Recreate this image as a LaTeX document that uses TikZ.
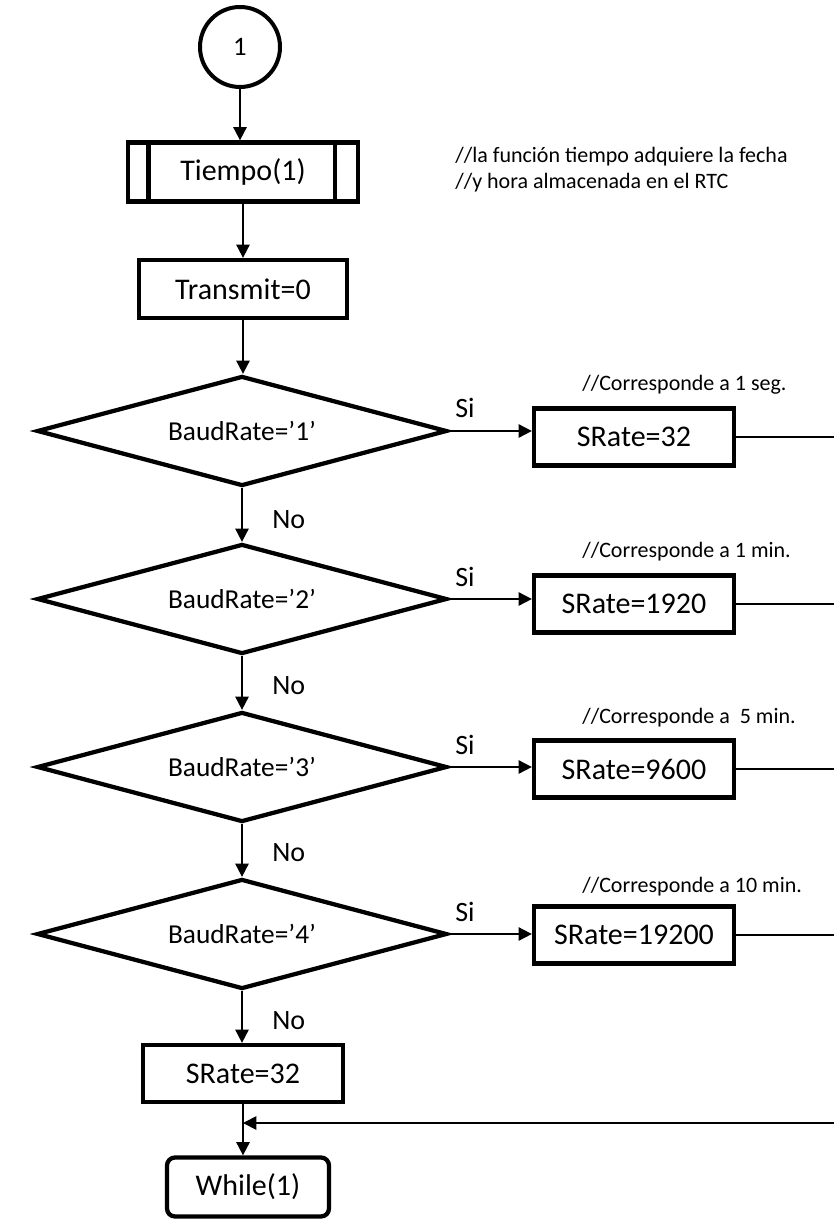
\documentclass[tikz,border=0pt]{standalone}
\usepackage{fontspec}
\setmainfont{Carlito}
\usetikzlibrary{shapes.geometric,arrows.meta}
\begin{document}
\begin{tikzpicture}[x=0.75pt,y=-0.75pt,
  box/.style={draw,line width=3.2pt,minimum width=150pt,minimum height=42.75pt,
    inner sep=0pt,font=\fontsize{22.5}{27}\selectfont},
  decision/.style={draw,diamond,line width=3.2pt,aspect=3.7,minimum width=307.5pt,
    minimum height=82.5pt,inner sep=0pt,font=\fontsize{20.5}{24}\selectfont},
  flow/.style={line width=1.4pt,-{Triangle[length=10pt,width=10pt]}},
  link/.style={line width=1.4pt},
  answer/.style={inner sep=0pt,font=\fontsize{21}{25}\selectfont},
  remark/.style={inner sep=0pt,anchor=west,font=\fontsize{16.5}{20}\selectfont},
]
\useasboundingbox (0,0) rectangle (834,1219);

% connector and initialisation
\node[draw,circle,line width=3pt,minimum size=60pt,inner sep=0pt,
  font=\fontsize{20}{24}\selectfont] (start) at (240,47) {1};
\node[box,minimum width=172.5pt,minimum height=44.25pt] (tiempo) at (243,172) {Tiempo(1)};
\draw[line width=3.2pt] ([xshift=17pt]tiempo.north west) -- ([xshift=17pt]tiempo.south west);
\draw[line width=3.2pt] ([xshift=-19pt]tiempo.north east) -- ([xshift=-19pt]tiempo.south east);
\node[remark] (c0a) at (455,157) {//la función tiempo adquiere la fecha};
\node[remark] (c0b) at (455,183) {//y hora almacenada en el RTC};
\node[box,minimum width=156pt,minimum height=43.5pt] (transmit) at (243,289) {Transmit=0};

% baud rate decisions
\node[decision] (d1) at (242,431) {BaudRate=’1’};
\node[decision] (d2) at (242,599) {BaudRate=’2’};
\node[decision] (d3) at (242,767) {BaudRate=’3’};
\node[decision] (d4) at (242,934) {BaudRate=’4’};

% sampling rate assignments
\node[box] (s1) at (634,437) {SRate=32};
\node[box] (s2) at (634,604) {SRate=1920};
\node[box] (s3) at (634,769) {SRate=9600};
\node[box] (s4) at (634,935) {SRate=19200};
\node[box] (s0) at (243,1073.5) {SRate=32};
\node[box,rounded corners=6pt,minimum width=121.5pt,minimum height=44.25pt] (loop) at (248,1187) {While(1)};

\node[remark] (c1) at (582,385) {//Corresponde a 1 seg.};
\node[remark] (c2) at (582,552) {//Corresponde a 1 min.};
\node[remark] (c3) at (582,718) {//Corresponde a\ \ 5 min.};
\node[remark] (c4) at (582,887) {//Corresponde a 10 min.};

\node[answer] (si1) at (465,408) {Si};
\node[answer] (si2) at (465,577) {Si};
\node[answer] (si3) at (465,745) {Si};
\node[answer] (si4) at (465,912) {Si};
\node[answer,anchor=west] (no1) at (272,520) {No};
\node[answer,anchor=west] (no2) at (272,686) {No};
\node[answer,anchor=west] (no3) at (272,853) {No};
\node[answer,anchor=west] (no4) at (272,1021) {No};

% main flow
\draw[flow] (start) -- (start |- tiempo.north);
\draw[flow] (tiempo.south -| transmit) -- (transmit.north);
\draw[flow] (transmit.south) -- (transmit.south |- d1.north);
\draw[flow] (d1.south) -- (d2.north);
\draw[flow] (d2.south) -- (d3.north);
\draw[flow] (d3.south) -- (d4.north);
\draw[flow] (d4.south) -- (d4.south |- s0.north);
\draw[flow] (s0.south) -- (s0.south |- loop.north);

% yes branches
\draw[flow] (d1.east) -- (d1.east -| s1.west);
\draw[flow] (d2.east) -- (d2.east -| s2.west);
\draw[flow] (d3.east) -- (d3.east -| s3.west);
\draw[flow] (d4.east) -- (d4.east -| s4.west);

% lines leaving to the right and the returning path
\coordinate (edge) at (834,0);
\draw[link] (s1.east) -- (s1.east -| edge);
\draw[link] (s2.east) -- (s2.east -| edge);
\draw[link] (s3.east) -- (s3.east -| edge);
\draw[link] (s4.east) -- (s4.east -| edge);
\coordinate (back) at (834,1123);
\draw[flow] (back) -- (back -| s0.south);
\end{tikzpicture}
\end{document}
